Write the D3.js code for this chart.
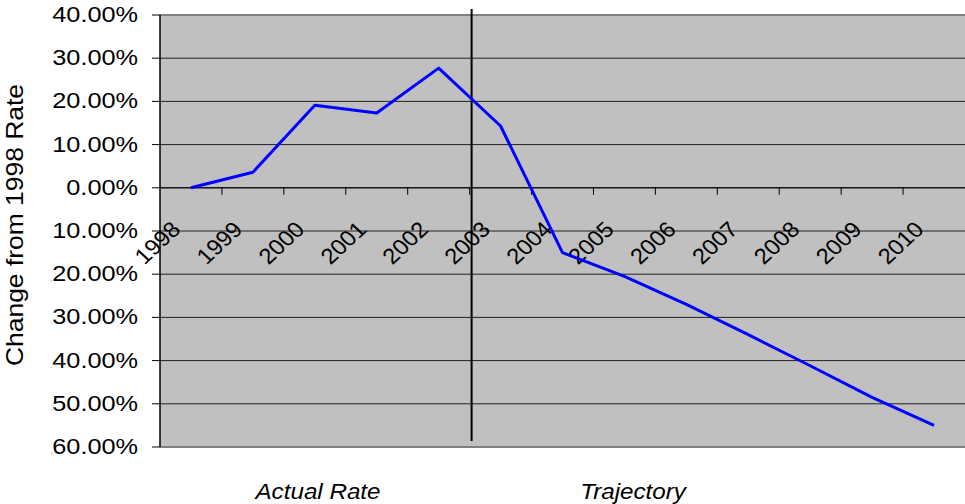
<!DOCTYPE html>
<html><head><meta charset="utf-8">
<script src="https://cdn.jsdelivr.net/npm/d3@7"></script>
<style>body{margin:0;background:#fff}svg{display:block}text{font-family:"Liberation Sans",Arial,sans-serif;fill:#000}</style>
</head><body><svg id="c" width="965" height="504"></svg>
<script>
const years = ["1998","1999","2000","2001","2002","2003","2004","2005","2006","2007","2008","2009","2010"];
const changePct = [0, 3.6, 19.1, 17.3, 27.7, 14.3, -15.0, -20.5, -27.0, -34.0, -41.2, -48.5, -55.0];
const yTickValues = [40, 30, 20, 10, 0, -10, -20, -30, -40, -50, -60];
const yTitle = "Change from 1998 Rate";
const sectionLabels = ["Actual Rate", "Trajectory"];
const dividerYear = "2003";

const svg = d3.select("#c");
const L = 160, R = 965, T = 15, B = 447;
const x = d3.scaleBand().domain(years).range([L, R]);
const bw = x.bandwidth();
const cx = d => x(d) + bw / 2;
const y = d3.scaleLinear().domain([-60, 40]).range([B, T]);

svg.append("rect").attr("x", L).attr("y", T).attr("width", R - L).attr("height", B - T).attr("fill", "#c0c0c0");

// gridlines
svg.append("g").selectAll("line").data(yTickValues).join("line")
  .attr("x1", L).attr("x2", R).attr("y1", d => y(d)).attr("y2", d => y(d))
  .attr("stroke", d => (d === 40 || d === -60) ? "#808080" : "#222")
  .attr("stroke-width", d => (d === 40 || d === -60) ? 2 : 1);

// left axis
svg.append("line").attr("x1", L).attr("x2", L).attr("y1", T).attr("y2", B).attr("stroke", "#000").attr("stroke-width", 1.5);
svg.append("g").selectAll("line").data(yTickValues).join("line")
  .attr("x1", L - 8).attr("x2", L).attr("y1", d => y(d)).attr("y2", d => y(d)).attr("stroke", "#000");
const yl = svg.append("g").selectAll("text").data(yTickValues).join("text")
  .attr("text-anchor", "end").attr("font-size", 22)
  .attr("transform", d => `translate(138,${y(d) + 7}) scale(1.15,1)`);
yl.each(function(d){
  const t = d3.select(this);
  if (d < 0) { t.append("tspan").attr("font-size", 4).text("-"); }
  t.append("tspan").text(Math.abs(d).toFixed(2) + "%");
});

// x axis at zero
svg.append("line").attr("x1", L).attr("x2", R).attr("y1", y(0)).attr("y2", y(0)).attr("stroke", "#000");
svg.append("g").selectAll("line").data(years.slice(1)).join("line")
  .attr("x1", d => x(d)).attr("x2", d => x(d)).attr("y1", y(0)).attr("y2", y(0) + 7).attr("stroke", "#000");
svg.append("g").selectAll("text").data(years).join("text")
  .attr("text-anchor", "end").attr("font-size", 22)
  .attr("transform", d => `translate(${cx(d) - 9},${y(0) + 43}) scale(1.08,1) rotate(-45)`)
  .text(d => d);

// divider
const dx = x(dividerYear) + 2;
svg.append("line").attr("x1", dx).attr("x2", dx).attr("y1", 9).attr("y2", 441).attr("stroke", "#000").attr("stroke-width", 2);

// series line
svg.append("path").datum(years.map((d, i) => [cx(d), y(changePct[i])]))
  .attr("fill", "none").attr("stroke", "#0000ff").attr("stroke-width", 3).attr("stroke-linejoin", "round")
  .attr("d", d3.line());

// y title
svg.append("text").attr("text-anchor", "middle").attr("font-size", 23)
  .attr("transform", `translate(23,225) rotate(-90) scale(1.15,1)`).text(yTitle);

// section labels
svg.append("text").attr("text-anchor", "middle").attr("font-size", 22).attr("font-style", "italic")
  .attr("transform", "translate(318,499) scale(1.1,1)").text(sectionLabels[0]);
svg.append("text").attr("text-anchor", "middle").attr("font-size", 22).attr("font-style", "italic")
  .attr("transform", "translate(633,499) scale(1.1,1)").text(sectionLabels[1]);
</script></body></html>
